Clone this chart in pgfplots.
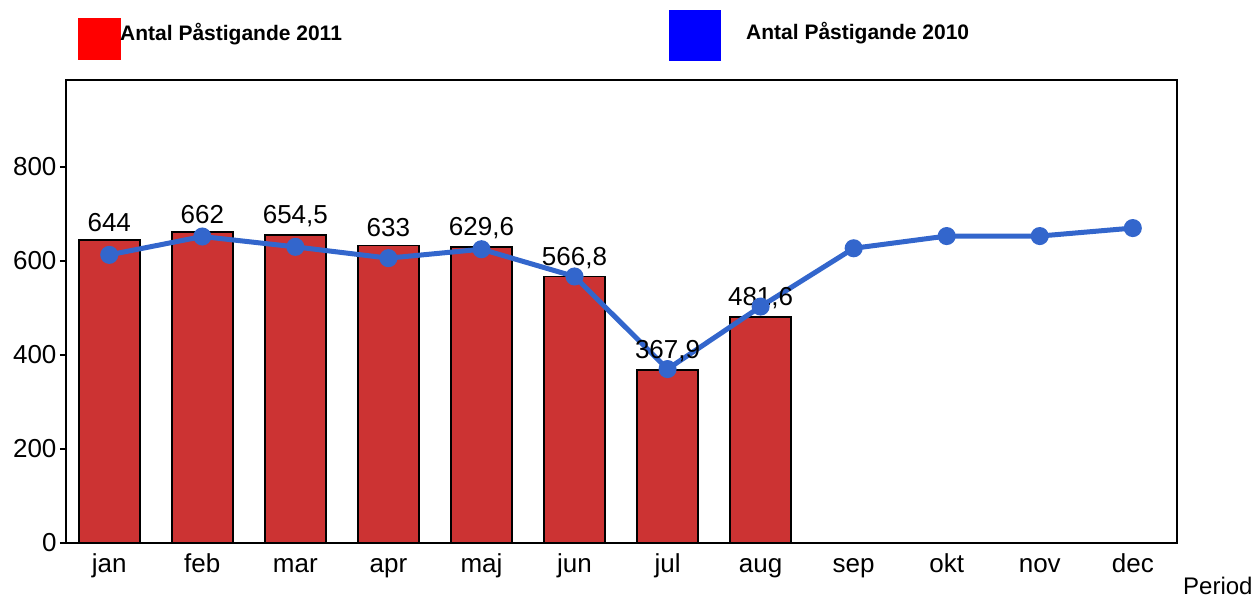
\documentclass[border=0pt]{standalone}
\usepackage{pgfplots}
\pgfplotsset{compat=1.18}
\usepackage{fontspec}
\setmainfont{Liberation Sans}
\definecolor{barred}{HTML}{CC3333}
\definecolor{lineblue}{HTML}{3366CC}
\begin{document}
\begin{tikzpicture}
\useasboundingbox (-66pt,-56pt) rectangle (1191pt,543pt);
\begin{axis}[
  at={(0pt,0pt)}, anchor=south west,
  scale only axis, width=1111pt, height=463pt,
  xmin=-0.465, xmax=11.475, ymin=0, ymax=985,
  xtick={0,...,11},
  xticklabels={jan,feb,mar,apr,maj,jun,jul,aug,sep,okt,nov,dec},
  ytick={0,200,400,600,800},
  x tick style={draw=none},
  ytick pos=left, tick align=outside,
  major tick length=6pt,
  y tick style={line width=1.2pt, black},
  axis line style={line width=1.6pt},
  /pgf/number format/assume math mode=true,
  /pgf/number format/use comma,
  /pgf/number format/1000 sep={},
  ticklabel style={font=\fontsize{26}{30}\selectfont},
  xticklabel style={anchor=base, yshift=-23pt},
  clip=false,
]
\addplot[ybar, bar width=61pt, fill=barred, draw=black, line width=1.8pt,
  nodes near coords,
  every node near coord/.append style={font=\fontsize{26}{30}\selectfont, yshift=4pt}]
  coordinates {(0,644) (1,662) (2,654.5) (3,633) (4,629.6) (5,566.8) (6,367.9) (7,481.6)};
\addplot[color=lineblue, line width=5pt, mark=*, mark size=6.5pt,
  mark options={fill=lineblue, draw=lineblue}]
  coordinates {(0,613) (1,652) (2,630) (3,606) (4,625) (5,567) (6,370) (7,503) (8,627) (9,653) (10,653) (11,670)};
\end{axis}
\fill[red] (12pt,483pt) rectangle (55pt,525pt);
\node[anchor=west, inner sep=0pt, font=\fontsize{21}{25}\selectfont\bfseries] at (54pt,509pt) {Antal Påstigande 2011};
\fill[blue] (603pt,482pt) rectangle (655pt,533pt);
\node[anchor=west, inner sep=0pt, font=\fontsize{21}{25}\selectfont\bfseries] at (680pt,510pt) {Antal Påstigande 2010};
\node[anchor=west, inner sep=0pt, font=\fontsize{24}{28}\selectfont] at (1117pt,-43pt) {Period};
\end{tikzpicture}
\end{document}
